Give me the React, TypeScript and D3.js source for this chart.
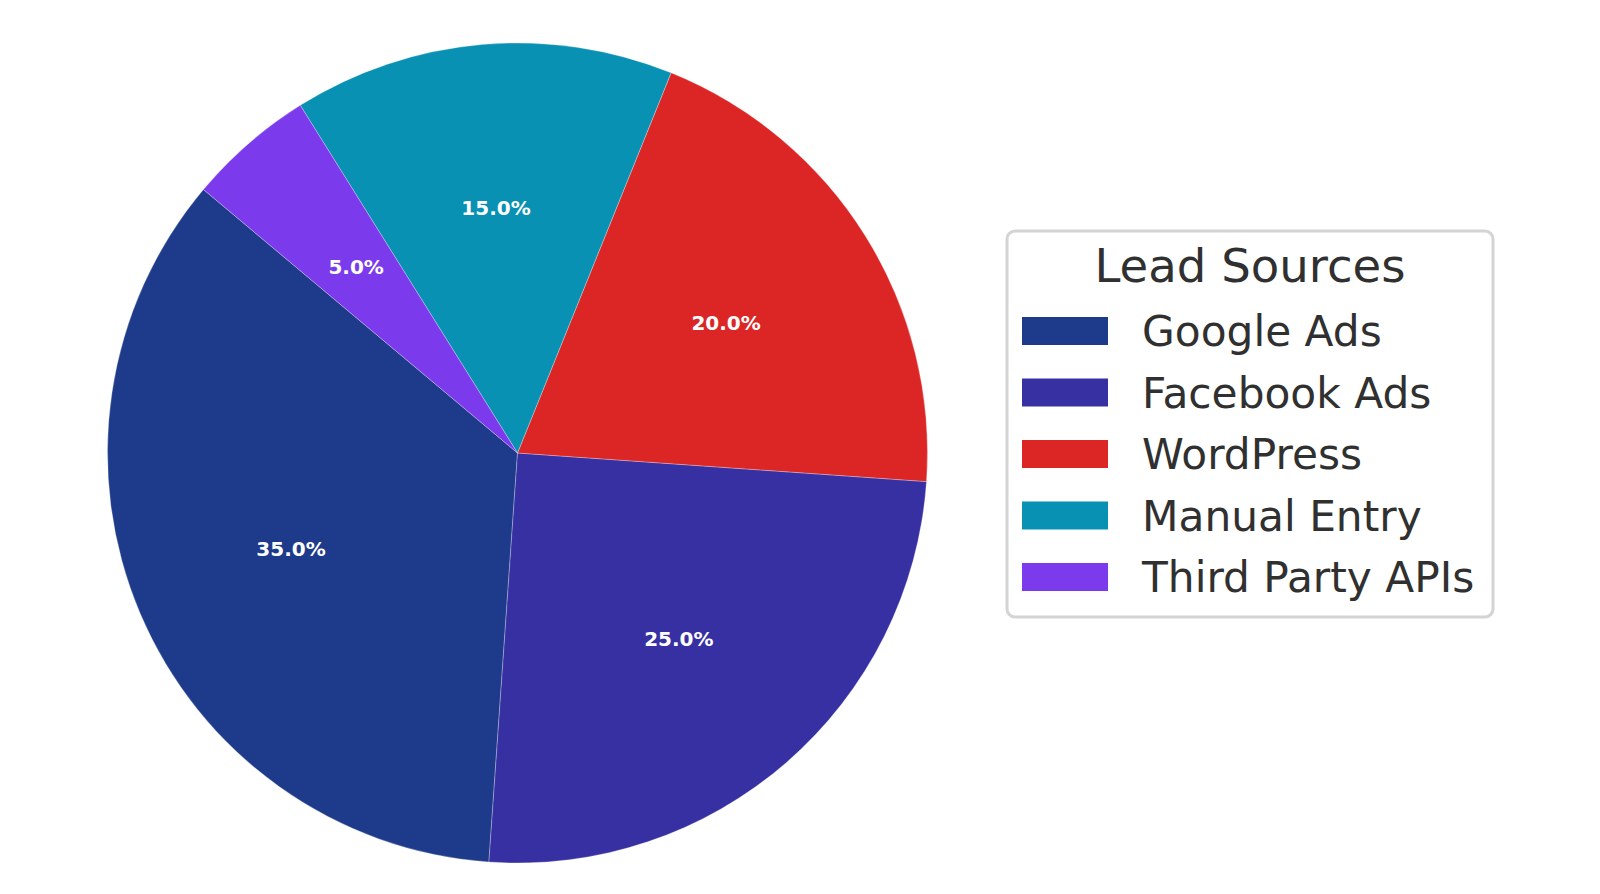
import React from "react";
import * as d3 from "d3";

const categories = ["Google Ads", "Facebook Ads", "WordPress", "Manual Entry", "Third Party APIs"];
const values = [35, 25, 20, 15, 5];
const colors = ["#1e3a8a", "#3730a3", "#dc2626", "#0891b2", "#7c3aed"];
const legendTitle = "Lead Sources";

const W = 1600;
const H = 894;
const cx = 517.5;
const cy = 453;
const R = 410;
const startDeg = 140; // counterclockwise from 3 o'clock, as matplotlib

export default function App() {
  const total = d3.sum(values);
  const a0 = ((90 - startDeg) * Math.PI) / 180;
  const pie = d3
    .pie<number>()
    .sort(null)
    .value((d) => d)
    .startAngle(a0)
    .endAngle(a0 - 2 * Math.PI);
  const arcs = pie(values);
  const arcGen = d3.arc<d3.PieArcDatum<number>>().innerRadius(0).outerRadius(R);
  const labelArc = d3
    .arc<d3.PieArcDatum<number>>()
    .innerRadius(R * 0.6)
    .outerRadius(R * 0.6);
  const fmt = d3.format(".1f");

  // legend layout
  const lx = 1007;
  const ly = 231;
  const lw = 486;
  const lh = 386;
  const rowY = d3
    .scaleLinear()
    .domain([0, categories.length - 1])
    .range([331, 331 + 61.5 * (categories.length - 1)]);

  return (
    <svg
      width={W}
      height={H}
      style={{ position: "absolute", left: 0, top: 0, display: "block", background: "#ffffff" }}
      fontFamily="DejaVu Sans, sans-serif"
    >
      <rect x={0} y={0} width={W} height={H} fill="#ffffff" />
      <g transform={`translate(${cx},${cy})`}>
        {arcs.map((a, i) => (
          <path
            key={categories[i]}
            d={arcGen(a) || ""}
            fill={colors[i]}
            stroke="#ffffff"
            strokeOpacity={0.35}
            strokeWidth={0.8}
          />
        ))}
        {arcs.map((a, i) => {
          const [x, y] = labelArc.centroid(a);
          return (
            <text
              key={"l" + categories[i]}
              x={x}
              y={y}
              textAnchor="middle"
              dominantBaseline="central"
              fill="#ffffff"
              fontWeight="bold"
              fontSize={20}
            >
              {fmt((values[i] / total) * 100)}%
            </text>
          );
        })}
      </g>
      <g>
        <rect
          x={lx}
          y={ly}
          width={lw}
          height={lh}
          rx={8}
          ry={8}
          fill="#ffffff"
          stroke="#d4d4d4"
          strokeWidth={3}
        />
        <text x={lx + lw / 2} y={282} textAnchor="middle" fontSize={46.6} fill="#303030">
          {legendTitle}
        </text>
        {categories.map((c, i) => (
          <g key={"lg" + c}>
            <rect x={1022} y={rowY(i) - 14} width={86} height={28} fill={colors[i]} />
            <text x={1142} y={rowY(i) + 15} fontSize={42.3} fill="#303030">
              {c}
            </text>
          </g>
        ))}
      </g>
    </svg>
  );
}
